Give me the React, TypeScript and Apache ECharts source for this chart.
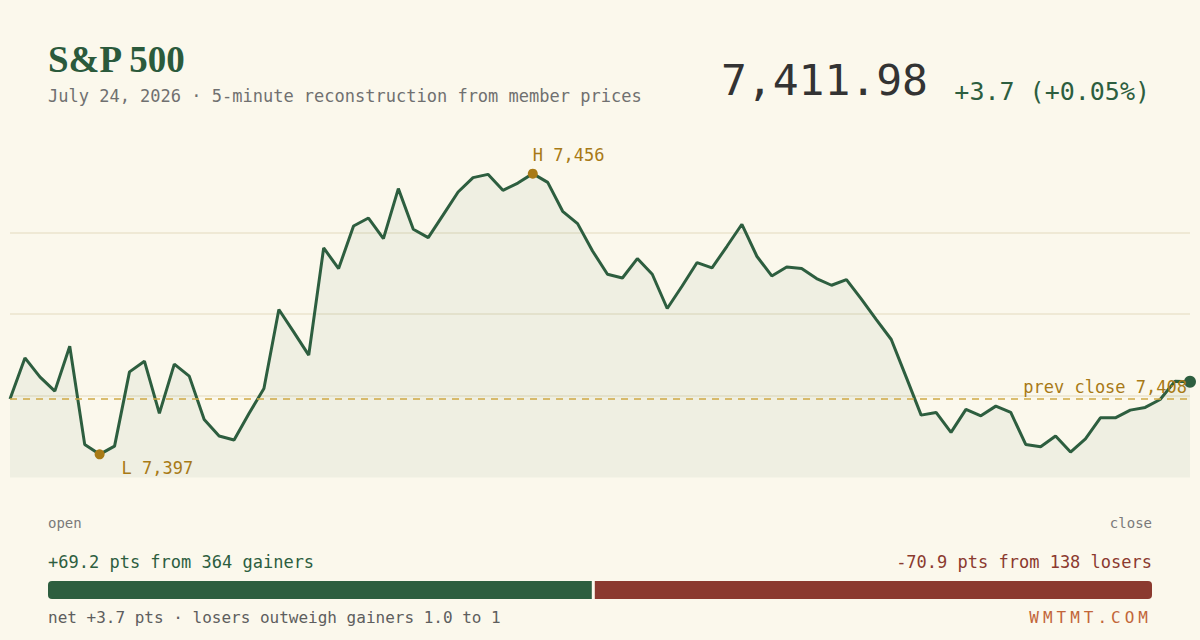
import React, { useEffect, useRef } from 'react';
import * as echarts from 'echarts';

// 5-minute reconstructed index levels, open -> close
const prices = [
  7408.3, 7417.05, 7413.02, 7409.98, 7419.54, 7398.65, 7396.53, 7398.29, 7414.08, 7416.35,
  7405.24, 7415.72, 7413.17, 7403.96, 7400.42, 7399.57, 7405.2, 7410.55, 7427.34, 7422.52,
  7417.63, 7440.43, 7436.05, 7445.1, 7446.8, 7442.43, 7453.05, 7444.4, 7442.64, 7447.48,
  7452.33, 7455.39, 7456.09, 7452.69, 7454.24, 7456.24, 7454.39, 7448.23, 7445.61, 7439.79,
  7434.84, 7434.05, 7438.18, 7434.84, 7427.55, 7432.35, 7437.33, 7436.18, 7440.79, 7445.47,
  7438.67, 7434.48, 7436.39, 7436.05, 7433.93, 7432.5, 7433.71, 7429.53, 7425.21, 7420.96,
  7412.95, 7404.88, 7405.45, 7401.2, 7406.09, 7404.73, 7406.79, 7405.45, 7398.65, 7398.14,
  7400.42, 7397.02, 7399.84, 7404.3, 7404.3, 7405.94, 7406.51, 7408.21, 7412.1, 7411.98,
];
const prevClose = 7408.28;
const sessionEnds = ['open', 'close'];
const gainPts = 69.2;
const gainers = 364;
const lossPts = 70.9;
const losers = 138;

const BG = '#fbf8ec';
const GREEN = '#2d5e3f';
const RED = '#8b3a2f';
const GOLD = '#a87a16';
const MONO = "'DejaVu Sans Mono', 'Liberation Mono', monospace";
const SERIF = "'Liberation Serif', 'DejaVu Serif', serif";
const BRAND = 'WMTMT.COM';

const fmt0 = (v: number) => Math.round(v).toLocaleString('en-US');
const signed = (v: number, d: number) => `${v >= 0 ? '+' : ''}${v.toFixed(d)}`;

const App: React.FC = () => {
  const chartRef = useRef<HTMLDivElement>(null);

  useEffect(() => {
    document.body.style.margin = '0';
    document.body.style.background = BG;
    if (!chartRef.current) return;
    const chart = echarts.init(chartRef.current, null, { renderer: 'svg' });

    const last = prices[prices.length - 1];
    const change = last - prevClose;
    const pct = (change / prevClose) * 100;
    const lo = Math.min(...prices);
    const hi = Math.max(...prices);
    const pad = 4.9;
    const ratio = lossPts / gainPts;

    const barX = 48;
    const barW = 1104;
    const gainW = (barW * gainPts) / (gainPts + lossPts);

    const txt = (x: number, y: number, text: string, size: number, fill: string, align = 'left') => ({
      type: 'text',
      x,
      y,
      style: { text, fontSize: size, fontFamily: MONO, fill, align, verticalAlign: 'middle' },
    });

    chart.setOption({
      animation: false,
      backgroundColor: BG,
      grid: { left: 10, right: 10, top: 150.6, bottom: 162.6 },
      xAxis: {
        type: 'category',
        boundaryGap: false,
        data: prices.map((_, i) => i),
        show: false,
      },
      yAxis: [
        { type: 'value', min: lo - pad, max: hi + pad, show: false },
        {
          type: 'value',
          min: 0,
          max: 4,
          interval: 1,
          axisLabel: { show: false },
          axisLine: { show: false },
          axisTick: { show: false },
          splitLine: { show: true, showMinLine: false, showMaxLine: false, lineStyle: { color: '#ebe4ce', width: 1.5 } },
        },
      ],
      series: [
        {
          type: 'line',
          data: prices,
          yAxisIndex: 0,
          showSymbol: false,
          silent: true,
          lineStyle: { color: GREEN, width: 3 },
          areaStyle: { color: 'rgba(45,94,63,0.085)', origin: 'start' },
          markLine: {
            silent: true,
            symbol: ['none', 'none'],
            lineStyle: { type: [7, 6], color: '#cfa944', width: 1.5 },
            label: {
              position: 'insideEndTop',
              distance: [3, 4],
              formatter: 'prev close ' + fmt0(prevClose),
              color: GOLD,
              fontFamily: MONO,
              fontSize: 17,
            },
            data: [{ yAxis: prevClose }],
          },
          markPoint: {
            silent: true,
            symbol: 'circle',
            data: [
              {
                type: 'max',
                symbolSize: 10,
                itemStyle: { color: GOLD },
                label: {
                  show: true,
                  position: 'inside',
                  align: 'left',
                  verticalAlign: 'middle',
                  offset: [0, -19],
                  formatter: (p: any) => 'H ' + fmt0(p.value),
                  color: GOLD,
                  fontFamily: MONO,
                  fontSize: 17,
                },
              },
              {
                type: 'min',
                symbolSize: 10,
                itemStyle: { color: GOLD },
                label: {
                  show: true,
                  position: 'inside',
                  align: 'left',
                  verticalAlign: 'middle',
                  offset: [22, 14],
                  formatter: (p: any) => 'L ' + fmt0(p.value),
                  color: GOLD,
                  fontFamily: MONO,
                  fontSize: 17,
                },
              },
              {
                coord: [prices.length - 1, last],
                symbolSize: 12,
                itemStyle: { color: GREEN },
                label: { show: false },
              },
            ],
          },
        },
      ],
      graphic: [
        {
          type: 'text',
          x: 48,
          y: 59,
          style: { text: 'S&P 500', fontSize: 37, fontWeight: 'bold', fontFamily: SERIF, fill: '#2b5a3c', verticalAlign: 'middle' },
        },
        txt(48, 96, 'July 24, 2026 · 5-minute reconstruction from member prices', 17, '#707070'),
        txt(928, 80, last.toLocaleString('en-US', { minimumFractionDigits: 2 }), 43, '#333333', 'right'),
        txt(1150, 91, `${signed(change, 1)} (${signed(pct, 2)}%)`, 25, GREEN, 'right'),
        txt(48, 523, sessionEnds[0], 14, '#7a7a7a'),
        txt(1152, 523, sessionEnds[1], 14, '#7a7a7a', 'right'),
        txt(48, 562, `+${gainPts.toFixed(1)} pts from ${gainers} gainers`, 17, GREEN),
        txt(1152, 562, `-${lossPts.toFixed(1)} pts from ${losers} losers`, 17, RED, 'right'),
        {
          type: 'rect',
          shape: { x: barX, y: 581, width: gainW - 1.5, height: 18, r: [4, 0, 0, 4] },
          style: { fill: GREEN },
        },
        {
          type: 'rect',
          shape: { x: barX + gainW + 1.5, y: 581, width: barW - gainW - 1.5, height: 18, r: [0, 4, 4, 0] },
          style: { fill: RED },
        },
        txt(
          48,
          617,
          `net ${signed(change, 1)} pts · ${ratio >= 1 ? 'losers outweigh gainers' : 'gainers outweigh losers'} ${Math.max(ratio, 1 / ratio).toFixed(1)} to 1`,
          16,
          '#5e5e5e',
        ),
        txt(1152, 617, BRAND, 16, '#c2663a', 'right'),
      ],
    });

    // zrender has no letter spacing, so widen the brand mark in the svg
    const spaceBrand = () => {
      chartRef.current?.querySelectorAll('text').forEach((t) => {
        if (t.textContent === BRAND) t.setAttribute('letter-spacing', '4');
      });
    };
    chart.on('finished', spaceBrand);
    spaceBrand();

    return () => {
      chart.dispose();
    };
  }, []);

  return <div ref={chartRef} style={{ width: 1200, height: 640, background: BG }} />;
};

export default App;
